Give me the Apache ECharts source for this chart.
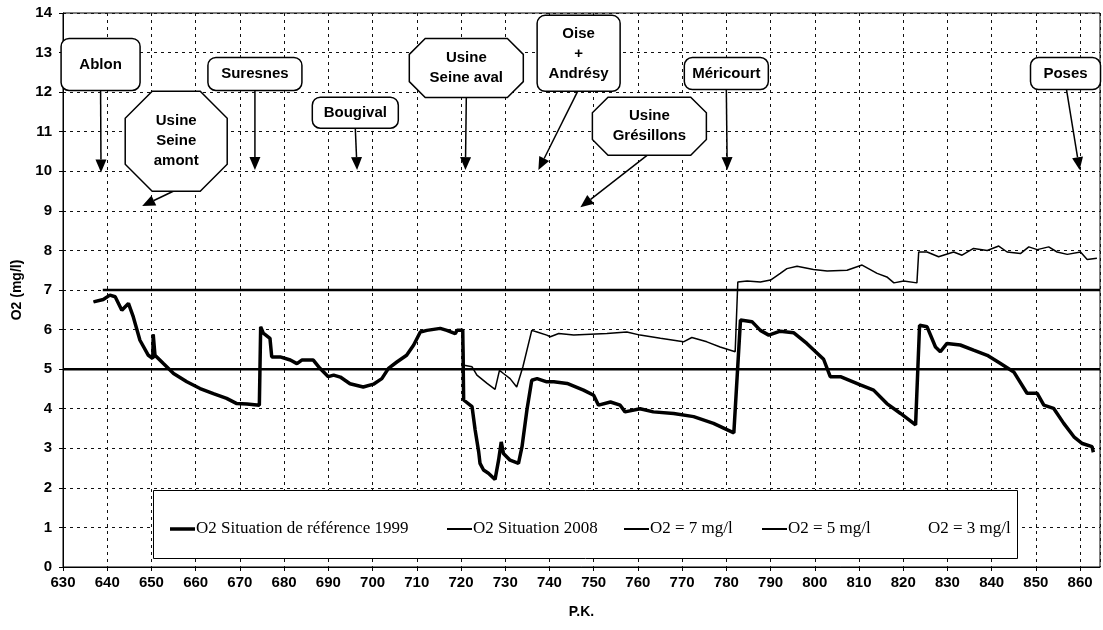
<!DOCTYPE html>
<html>
<head>
<meta charset="utf-8">
<script src="https://cdn.jsdelivr.net/npm/echarts@6/dist/echarts.min.js"></script>
<style>html,body{margin:0;padding:0;background:#fff}#c{width:1103px;height:630px}</style>
</head>
<body>
<div id="c"></div>
<script>
// ---- data ----
const upstreamPk = [636.9,639.1,640.6,641.8,643.3,644.8,645.9,647.4,649.3,650.3,650.4,650.8,652.7,655.0,658.0,661.0,664.0,667.0,669.3,671.6,674.4,674.7,675.3,676.8,677.2,679.1,681.4,682.9,684.0,686.6,688.1,690.0,691.2,692.7,694.9,697.9,700.2,702.1,703.6,705.5,707.7,709.3,710.8,712.3,715.3,716.8,718.7,719.1,720.4];
const upstreamO2 = [6.70,6.76,6.87,6.83,6.49,6.66,6.32,5.73,5.35,5.27,5.88,5.35,5.14,4.89,4.68,4.51,4.38,4.26,4.13,4.12,4.09,6.07,5.91,5.78,5.31,5.31,5.23,5.14,5.23,5.23,5.02,4.81,4.85,4.80,4.63,4.55,4.62,4.76,5.02,5.18,5.35,5.61,5.94,5.98,6.03,5.98,5.90,5.98,5.98];

const down1999Pk = [720.6,722.5,723.2,724.0,724.3,725.1,726.2,727.7,728.5,729.1,729.6,731.1,733.0,733.8,734.9,736.0,737.2,739.4,741.0,744.0,747.7,750.0,751.1,753.8,756.0,757.1,760.5,763.5,768.1,772.6,777.1,781.7,783.2,785.8,787.7,789.6,792.2,795.2,798.2,802.0,803.5,805.8,810.3,813.3,816.3,819.4,822.8,823.7,825.4,827.3,828.4,829.9,832.9,835.9,839.0,842.0,845.0,848.0,850.3,851.8,854.0,856.3,858.6,860.5,862.7,863.0];
const down1999O2 = [4.22,4.05,3.46,2.91,2.62,2.45,2.37,2.21,2.70,3.16,2.87,2.70,2.62,3.04,3.96,4.72,4.76,4.68,4.68,4.64,4.47,4.34,4.09,4.17,4.09,3.92,4.00,3.92,3.88,3.80,3.63,3.39,6.24,6.20,5.98,5.86,5.96,5.92,5.65,5.25,4.81,4.81,4.60,4.47,4.13,3.88,3.59,6.11,6.07,5.56,5.44,5.65,5.61,5.48,5.35,5.14,4.93,4.39,4.39,4.09,4.01,3.63,3.29,3.12,3.04,2.90];

const down2008Pk = [720.7,722.5,723.6,725.9,727.7,728.7,729.6,731.1,732.6,733.0,734.0,736.0,737.2,739.4,740.2,742.1,745.5,753.0,757.5,760.5,765.1,768.1,770.3,772.2,775.6,778.6,782.0,782.6,784.7,787.7,790.0,792.2,793.7,796.0,799.7,802.8,807.3,810.7,814.1,816.3,817.9,820.1,823.1,823.5,825.4,828.0,831.4,833.3,835.9,839.0,841.6,843.5,846.5,848.4,850.3,852.9,854.8,857.1,860.1,861.6,863.8];
const down2008O2 = [5.10,5.06,4.85,4.64,4.49,4.97,4.89,4.76,4.55,4.50,5.06,5.98,5.94,5.86,5.82,5.90,5.86,5.90,5.94,5.86,5.78,5.73,5.69,5.80,5.69,5.56,5.44,7.20,7.23,7.20,7.25,7.42,7.54,7.60,7.52,7.48,7.50,7.63,7.42,7.33,7.18,7.23,7.18,7.96,7.96,7.84,7.96,7.88,8.05,8.00,8.11,7.96,7.92,8.09,8.02,8.09,7.96,7.90,7.96,7.77,7.80];

const ref7Pk = [639, 864.5], ref7O2 = [7, 7];
const ref5Pk = [630, 864.5], ref5O2 = [5, 5];
const ref3Pk = [630, 864.5], ref3O2 = [3, 3];

const seriesNames = ['O2 Situation de référence 1999', 'O2 Situation 2008', 'O2 = 7 mg/l', 'O2 = 5 mg/l', 'O2 = 3 mg/l'];

// callout labels: box centre and arrow tip in data units
const calloutText = ['Ablon', 'Usine\nSeine\namont', 'Suresnes', 'Bougival', 'Usine\nSeine aval', 'Oise\n+\nAndrésy', 'Usine\nGrésillons', 'Méricourt', 'Poses'];
const calloutPk   = [638.5, 655.6, 673.4, 696.1, 721.2, 746.6, 762.6, 780.0, 856.7];
const calloutO2   = [12.70, 10.76, 12.46, 11.48, 12.61, 12.98, 11.14, 12.47, 12.47];
const tipPk       = [638.6, 647.9, 673.4, 696.5, 721.0, 737.5, 747.0, 780.2, 859.9];
const tipO2       = [9.97, 9.12, 10.03, 10.03, 10.03, 10.03, 9.09, 10.03, 10.03];

// ---- layout / style of callouts (pixels) ----
const calloutStyle = [
  {w:79, h:52, shape:'round'}, {w:102, h:100, shape:'oct', dx:-3}, {w:94, h:33, shape:'round'},
  {w:86, h:31, shape:'round'}, {w:114, h:59, shape:'oct'}, {w:83, h:76, shape:'round', dx:-1},
  {w:114, h:58, shape:'oct', dx:-2}, {w:84, h:32, shape:'round'}, {w:70, h:32, shape:'round', dx:1}
];

const zip = (a, b) => a.map((v, i) => [v, b[i]]);
const pk1999 = upstreamPk.concat(down1999Pk), o21999 = upstreamO2.concat(down1999O2);
const pk2008 = upstreamPk.concat(down2008Pk), o22008 = upstreamO2.concat(down2008O2);

function renderCallout(params, api) {
  const st = calloutStyle[params.dataIndex];
  const c = api.coord([api.value(0), api.value(1)]);
  const t = api.coord([api.value(2), api.value(3)]);
  const w = st.w, h = st.h, x0 = c[0] - w / 2, y0 = c[1] - h / 2;
  const sx = c[0] + (st.dx || 0), sy = y0 + h;
  const ang = Math.atan2(t[1] - sy, t[0] - sx);
  const L = 13, HW = 5.5;
  const bx = t[0] - L * Math.cos(ang), by = t[1] - L * Math.sin(ang);
  const px = -Math.sin(ang), py = Math.cos(ang);
  let box;
  if (st.shape === 'oct') {
    const k = 0.27 * Math.min(w, h);
    box = {type:'polygon', shape:{points:[[x0+k,y0],[x0+w-k,y0],[x0+w,y0+k],[x0+w,y0+h-k],[x0+w-k,y0+h],[x0+k,y0+h],[x0,y0+h-k],[x0,y0+k]]},
      style:{fill:'#fff', stroke:'#000', lineWidth:1.5}};
  } else {
    box = {type:'rect', shape:{x:x0, y:y0, width:w, height:h, r:8}, style:{fill:'#fff', stroke:'#000', lineWidth:1.5}};
  }
  return {type:'group', children:[
    {type:'line', shape:{x1:sx, y1:sy, x2:bx, y2:by}, style:{stroke:'#000', lineWidth:1.5}},
    {type:'polygon', shape:{points:[[t[0],t[1]],[bx+HW*px,by+HW*py],[bx-HW*px,by-HW*py]]}, style:{fill:'#000'}},
    box,
    {type:'text', style:{text:calloutText[params.dataIndex], x:c[0], y:c[1], align:'center', verticalAlign:'middle',
      fontFamily:'Liberation Sans', fontWeight:'bold', fontSize:15, lineHeight:20, fill:'#000'}}
  ]};
}

const chart = echarts.init(document.getElementById('c'));
const legendBase = {top:519, padding:0, itemWidth:25, icon:'rect', selectedMode:false, z:10,
  textStyle:{fontFamily:'Liberation Serif', fontSize:17, color:'#000', lineHeight:20, padding:[0,0,0,-4]}};
const legendLeft = [170, 447, 624, 762, 902];
const legendIconH = [3.5, 2, 2, 2, 2];

chart.setOption({
  animation:false,
  backgroundColor:'#fff',
  grid:{left:63, right:3, top:13, bottom:63, show:true, borderColor:'#000', borderWidth:1},
  legend: seriesNames.map((n, i) => Object.assign({}, legendBase, {data:[n], left:legendLeft[i], itemHeight:legendIconH[i]})),
  graphic:[{type:'rect', left:153, top:490, shape:{width:864, height:68}, z:3,
    style:{fill:'#fff', stroke:'#000', lineWidth:1}}],
  xAxis:{type:'value', min:630, max:864.5, interval:10, name:'P.K.', nameLocation:'middle', nameGap:38,
    nameTextStyle:{fontFamily:'Liberation Sans', fontWeight:'bold', fontSize:14, color:'#000'},
    axisLine:{lineStyle:{color:'#000', width:1}},
    axisTick:{length:4, lineStyle:{color:'#000'}},
    axisLabel:{margin:8, fontFamily:'Liberation Sans', fontWeight:'bold', fontSize:15, color:'#000',
      formatter:v => (Math.abs(v % 10) < 1e-6 ? String(v) : ''), showMaxLabel:false},
    splitLine:{show:true, lineStyle:{color:'#111', width:1, type:[3,4]}}},
  yAxis:{type:'value', min:0, max:14, interval:1, name:'O2 (mg/l)', nameLocation:'middle', nameGap:38,
    nameTextStyle:{fontFamily:'Liberation Sans', fontWeight:'bold', fontSize:14, color:'#000'},
    axisLine:{show:true, lineStyle:{color:'#000', width:1}},
    axisTick:{show:true, length:4, lineStyle:{color:'#000'}},
    axisLabel:{margin:11, fontFamily:'Liberation Sans', fontWeight:'bold', fontSize:15, color:'#000'},
    splitLine:{show:true, lineStyle:{color:'#111', width:1, type:[3,4]}}},
  series:[
    {name:seriesNames[0], type:'line', data:zip(pk1999, o21999), symbol:'none', color:'#000',
      lineStyle:{color:'#000', width:3.5}, z:3},
    {name:seriesNames[1], type:'line', data:zip(pk2008, o22008), symbol:'none', color:'#000',
      lineStyle:{color:'#000', width:1.5}, z:4},
    {name:seriesNames[2], type:'line', data:zip(ref7Pk, ref7O2), symbol:'none', color:'#000',
      lineStyle:{color:'#000', width:2.5}, z:2},
    {name:seriesNames[3], type:'line', data:zip(ref5Pk, ref5O2), symbol:'none', color:'#000',
      lineStyle:{color:'#000', width:2.5}, z:2},
    {name:seriesNames[4], type:'line', data:zip(ref3Pk, ref3O2), symbol:'none', color:'rgba(0,0,0,0)',
      lineStyle:{color:'rgba(0,0,0,0)', width:0}, z:1},
    {type:'custom', coordinateSystem:'cartesian2d', clip:false, z:6, silent:true,
      data:calloutPk.map((p, i) => [p, calloutO2[i], tipPk[i], tipO2[i]]),
      renderItem:renderCallout}
  ]
});
</script>
</body>
</html>
